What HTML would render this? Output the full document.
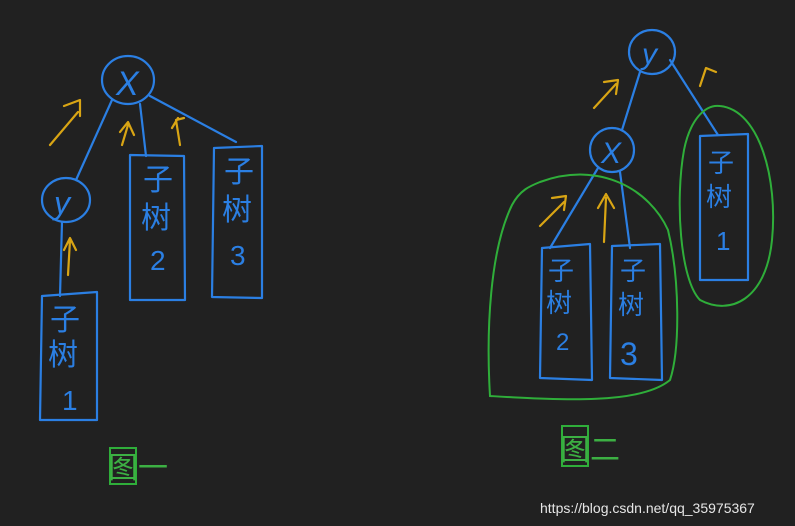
<!DOCTYPE html>
<html><head><meta charset="utf-8"><style>
html,body{margin:0;padding:0;background:#212121;}
svg{display:block;}
.b{stroke:#2b7fe3;stroke-width:2.2;fill:none;stroke-linecap:round;stroke-linejoin:round;}
.y{stroke:#d9a514;stroke-width:2.2;fill:none;stroke-linecap:round;stroke-linejoin:round;}
.g{stroke:#2fae3a;stroke-width:2;fill:none;stroke-linecap:round;}
.bt{fill:#2b7fe3;font-family:"Liberation Sans","Noto Sans CJK SC",sans-serif;}
.gt{fill:#3cb043;font-family:"Liberation Sans","Noto Sans CJK SC",sans-serif;}
</style></head><body>
<svg width="795" height="526" viewBox="0 0 795 526">
<rect width="795" height="526" fill="#212121"/>
<g>
  <ellipse class="b" cx="128" cy="80" rx="26" ry="24"/>
  <text class="bt" x="116" y="95" font-size="34" font-style="italic">X</text>
  <ellipse class="b" cx="66" cy="200" rx="24" ry="22"/>
  <text class="bt" x="54" y="214" font-size="32" font-style="italic">y</text>
  <path class="b" d="M112 100 L76 180 M140 104 L146 156 M150 96 L236 142 M62 222 L60 296"/>
  <path class="b" d="M42 296 L97 292 L97 420 L40 420 Z"/>
  <text class="bt" x="50" y="330" font-size="30">子</text>
  <text class="bt" x="48" y="365" font-size="30">树</text>
  <text class="bt" x="62" y="410" font-size="28">1</text>
  <path class="b" d="M130 155 L184 156 L185 300 L130 300 Z"/>
  <text class="bt" x="143" y="190" font-size="30">子</text>
  <text class="bt" x="141" y="228" font-size="30">树</text>
  <text class="bt" x="150" y="270" font-size="28">2</text>
  <path class="b" d="M214 148 L262 146 L262 298 L212 297 Z"/>
  <text class="bt" x="224" y="182" font-size="30">子</text>
  <text class="bt" x="222" y="220" font-size="30">树</text>
  <text class="bt" x="230" y="265" font-size="28">3</text>
  <path class="y" d="M50 145 L78 112 M64 106 L80 100 L80 116 M122 145 L128 125 M120 132 L128 122 L134 135 M180 145 L176 120 L184 118 M172 128 L178 118 M68 275 L70 240 M64 250 L70 238 L76 250"/>
  <rect class="g" x="110" y="448" width="26" height="36"/>
  <text class="gt" x="108" y="478" font-size="30">图一</text>
</g>
<g>
  <ellipse class="b" cx="652" cy="52" rx="23" ry="22"/>
  <text class="bt" x="642" y="64" font-size="30" font-style="italic">y</text>
  <ellipse class="b" cx="612" cy="150" rx="22" ry="22"/>
  <text class="bt" x="601" y="163" font-size="30" font-style="italic">X</text>
  <path class="b" d="M640 72 L622 130 M670 60 L718 135 M598 168 L550 248 M620 172 L630 248"/>
  <path class="b" d="M542 248 L590 244 L592 380 L540 378 Z"/>
  <text class="bt" x="548" y="280" font-size="26">子</text>
  <text class="bt" x="546" y="312" font-size="26">树</text>
  <text class="bt" x="556" y="350" font-size="24">2</text>
  <path class="b" d="M612 246 L660 244 L662 380 L610 378 Z"/>
  <text class="bt" x="620" y="280" font-size="26">子</text>
  <text class="bt" x="618" y="314" font-size="26">树</text>
  <text class="bt" x="620" y="365" font-size="32">3</text>
  <path class="b" d="M700 136 L748 134 L748 280 L700 280 Z"/>
  <text class="bt" x="708" y="172" font-size="26">子</text>
  <text class="bt" x="706" y="206" font-size="26">树</text>
  <text class="bt" x="716" y="250" font-size="26">1</text>
  <path class="g" d="M540 182 C600 160 650 190 668 230 C680 280 680 350 670 380 C640 405 560 400 490 396 C486 330 490 250 512 205 C520 190 530 186 540 182 Z"/>
  <path class="g" d="M720 106 C760 110 778 180 772 240 C766 300 730 316 700 300 C680 280 675 200 684 150 C690 120 705 104 720 106 Z"/>
  <path class="y" d="M594 108 L616 84 M604 82 L618 80 L616 94 M700 86 L706 68 L716 72 M540 226 L564 202 M552 198 L566 196 L564 210 M604 242 L606 198 M598 208 L606 194 L614 208"/>
  <rect class="g" x="562" y="426" width="26" height="40"/>
  <text class="gt" x="560" y="460" font-size="30">图二</text>
</g>
<text x="540" y="513" font-size="14" fill="#e6e6e6" font-family="Liberation Sans, sans-serif">https://blog.csdn.net/qq_35975367</text>
</svg>
</body></html>
